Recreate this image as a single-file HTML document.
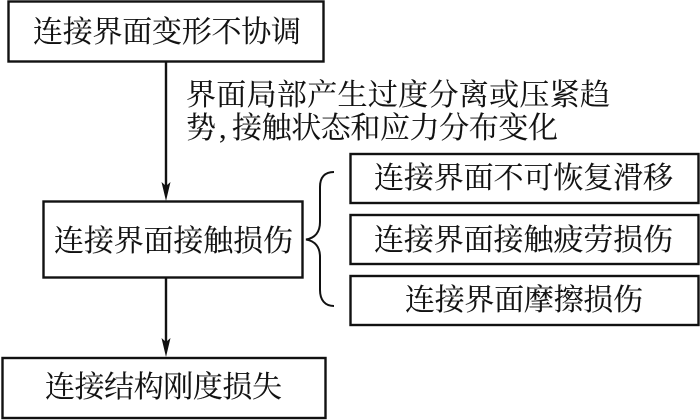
<!DOCTYPE html>
<html><head><meta charset="utf-8"><style>
html,body{margin:0;padding:0;background:#fff;width:700px;height:420px;overflow:hidden}
svg{display:block}
text{font-family:"Liberation Serif","Noto Serif CJK SC",serif;font-size:30px;fill:#111;stroke:#111;stroke-width:.12px}
rect{fill:#fff;stroke:#111;stroke-width:2.4}
</style></head><body>
<svg width="700" height="420" viewBox="0 0 700 420" xmlns="http://www.w3.org/2000/svg">
<rect x="8.5" y="1.5" width="315" height="60"/>
<rect x="43.5" y="201.5" width="259" height="76"/>
<rect x="2.5" y="358" width="323" height="60"/>
<rect x="350.5" y="154" width="348" height="49"/>
<rect x="350.5" y="215" width="348" height="49"/>
<rect x="350.5" y="276" width="348" height="49"/>
<path d="M166 62V190M166 277V347" stroke="#111" stroke-width="2.4" fill="none"/>
<path d="M166 201L161.500 182L166 186L170.500 182Z M166 357L161.500 338L166 342L170.500 338Z" fill="#111"/>
<path d="M334 172C325 172 320 177 320 187V222C320 232 315 238 306 239.500C315 241 320 247 320 257V290C320 300 325 306 334 306" fill="none" stroke="#111" stroke-width="2"/>
<text x="33" y="42" textLength="268">连接界面变形不协调</text>
<text x="186" y="105" textLength="424">界面局部产生过度分离或压紧趋</text>
<text x="186" y="138">势</text>
<text x="219" y="138">,</text>
<text x="232" y="138" textLength="326">接触状态和应力分布变化</text>
<text x="54" y="251" textLength="239">连接界面接触损伤</text>
<text x="45" y="397" textLength="237">连接结构刚度损失</text>
<text x="374" y="188" textLength="299">连接界面不可恢复滑移</text>
<text x="374" y="250" textLength="299">连接界面接触疲劳损伤</text>
<text x="405" y="310" textLength="238">连接界面摩擦损伤</text>
</svg>
</body></html>
